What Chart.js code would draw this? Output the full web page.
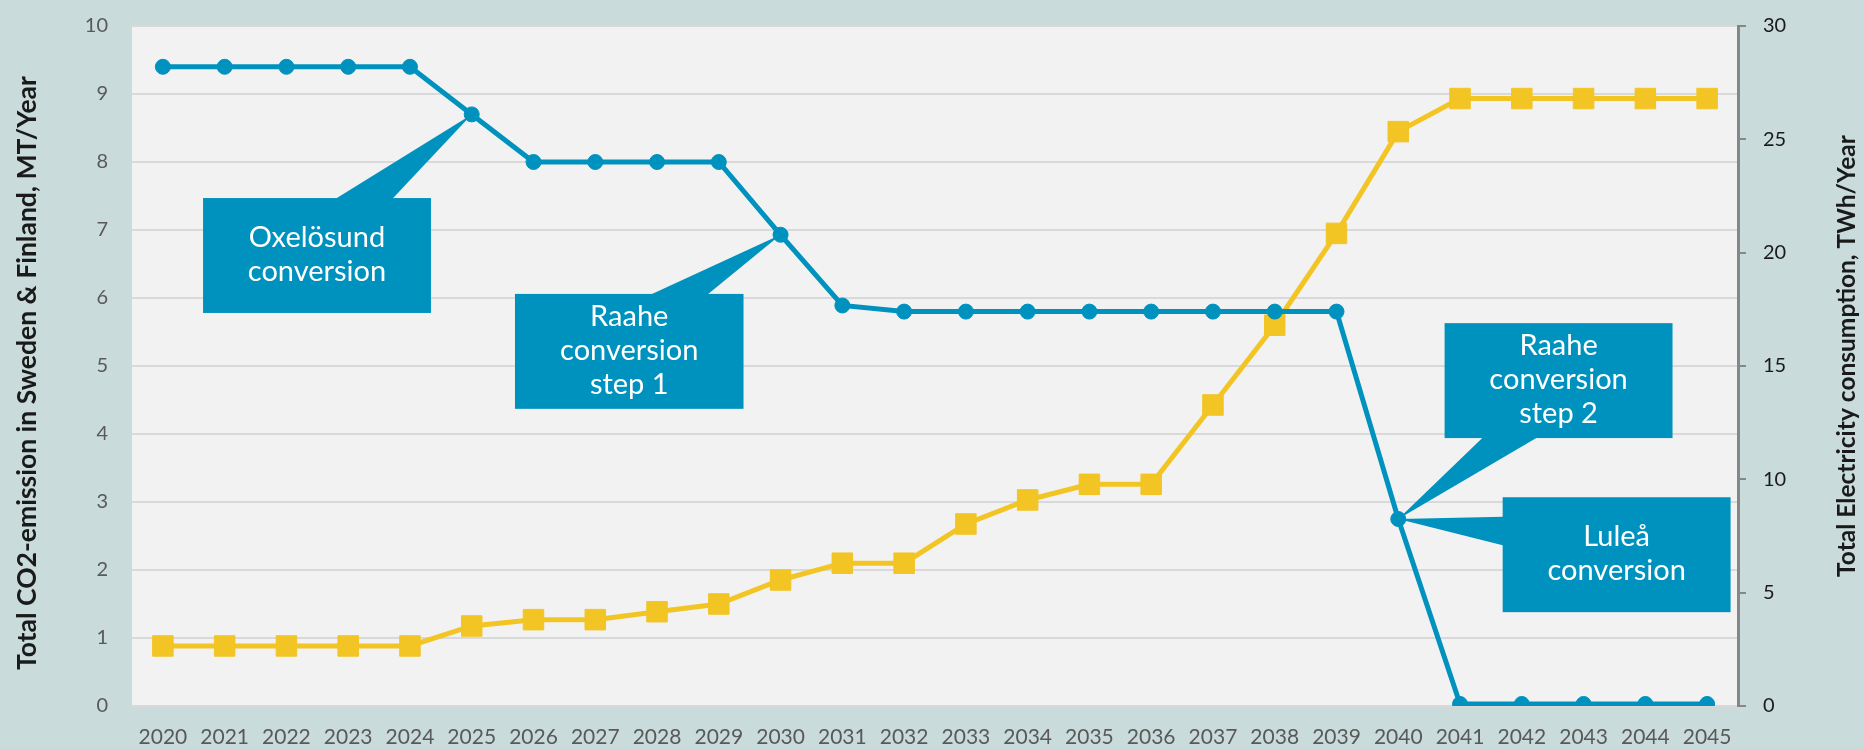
<!DOCTYPE html>
<html>
<head>
<meta charset="utf-8">
<title>CO2 emission and electricity consumption</title>
<script src="https://cdn.jsdelivr.net/npm/chart.js@4.4.0/dist/chart.umd.min.js"></script>
<style>
  html, body { margin: 0; padding: 0; background: #c9dbdb; }
  #wrap { width: 1864px; height: 749px; }
</style>
</head>
<body>
<div id="wrap"><canvas id="chart" width="1864" height="749"></canvas></div>
<script>
// data
const years = ["2020", "2021", "2022", "2023", "2024", "2025", "2026", "2027", "2028", "2029",
               "2030", "2031", "2032", "2033", "2034", "2035", "2036", "2037", "2038", "2039",
               "2040", "2041", "2042", "2043", "2044", "2045"];
// MT/Year, left axis
const co2Emission = [9.4, 9.4, 9.4, 9.4, 9.4, 8.7, 8.0, 8.0, 8.0, 8.0,
                     6.93, 5.89, 5.8, 5.8, 5.8, 5.8, 5.8, 5.8, 5.8, 5.8,
                     2.75, 0.03, 0.03, 0.03, 0.03, 0.03];
// TWh/Year, right axis
const electricity = [2.65, 2.65, 2.65, 2.65, 2.65, 3.53, 3.81, 3.81, 4.16, 4.5,
                     5.56, 6.3, 6.3, 8.03, 9.09, 9.78, 9.78, 13.28, 16.8, 20.85,
                     25.34, 26.8, 26.8, 26.8, 26.8, 26.8];
const leftTicks = [0, 1, 2, 3, 4, 5, 6, 7, 8, 9, 10];
const rightTicks = [0, 5, 10, 15, 20, 25, 30];
const leftTitle = "Total CO2-emission in Sweden & Finland, MT/Year";
const rightTitle = "Total Electricity consumption, TWh/Year";

const BLUE = "#0092be";
const YELLOW = "#f2c524";
const FONT = "Lato, 'Open Sans', 'DejaVu Sans', sans-serif";

// callouts: box given in axis units (category index, left axis value), pointer to a CO2 point
const callouts = [
    { lines: ["Oxelösund", "conversion"], point: 5, box: [0.65, 4.34, 7.47, 5.78], side: "top", base: [0.58, 0.83] },
    { lines: ["Raahe", "conversion", "step 1"], point: 10, box: [5.7, 9.4, 6.06, 4.37], side: "top", base: [0.59, 0.84] },
    { lines: ["Raahe", "conversion", "step 2"], point: 20, box: [20.75, 24.44, 5.63, 3.94], side: "bottom", base: [0.17, 0.41] },
    { lines: ["Luleå", "conversion"], point: 20, box: [21.69, 25.38, 3.07, 1.38], side: "left", base: [0.17, 0.42] }
];

const plotBackground = {
    id: "plotBackground",
    beforeDraw(chart) {
        const { ctx, chartArea } = chart;
        ctx.save();
        ctx.fillStyle = "#c9dbdb";
        ctx.fillRect(0, 0, chart.width, chart.height);
        ctx.fillStyle = "#f2f2f2";
        ctx.fillRect(chartArea.left, chartArea.top, chartArea.right - chartArea.left, chartArea.bottom - chartArea.top);
        ctx.restore();
    }
};

// both titles read bottom to top, so they are drawn here
const axisTitles = {
    id: "axisTitles",
    afterDraw(chart) {
        const { ctx, chartArea } = chart;
        const midY = (chartArea.top + chartArea.bottom) / 2;
        ctx.save();
        ctx.fillStyle = "#1a1a1a";
        ctx.textAlign = "center";
        ctx.textBaseline = "middle";
        [[chart.scales.y.left + 27, midY + 7, 26.5, leftTitle],
         [chart.scales.y2.right - 17, midY - 10, 24.5, rightTitle]].forEach(([x, y, size, text]) => {
            ctx.save();
            ctx.font = "bold " + size + "px " + FONT;
            ctx.translate(x, y);
            ctx.rotate(-Math.PI / 2);
            ctx.fillText(text, 0, 0);
            ctx.restore();
        });
        ctx.restore();
    }
};

const calloutPlugin = {
    id: "callouts",
    afterDatasetsDraw(chart) {
        const { ctx } = chart;
        const xs = chart.scales.x, ys = chart.scales.y;
        const pts = chart.getDatasetMeta(0).data;
        ctx.save();
        callouts.forEach(c => {
            const x1 = xs.getPixelForValue(c.box[0]);
            const x2 = xs.getPixelForValue(c.box[1]);
            const y1 = ys.getPixelForValue(c.box[2]);
            const y2 = ys.getPixelForValue(c.box[3]);
            const tip = pts[c.point];
            ctx.fillStyle = BLUE;
            ctx.fillRect(x1, y1, x2 - x1, y2 - y1);
            ctx.beginPath();
            if (c.side === "left") {
                ctx.moveTo(x1 + 1, y1 + (y2 - y1) * c.base[0]);
                ctx.lineTo(tip.x, tip.y);
                ctx.lineTo(x1 + 1, y1 + (y2 - y1) * c.base[1]);
            } else {
                const ey = c.side === "top" ? y1 + 1 : y2 - 1;
                ctx.moveTo(x1 + (x2 - x1) * c.base[0], ey);
                ctx.lineTo(tip.x, tip.y);
                ctx.lineTo(x1 + (x2 - x1) * c.base[1], ey);
            }
            ctx.closePath();
            ctx.fill();
            ctx.fillStyle = "#ffffff";
            ctx.font = "29px " + FONT;
            ctx.textAlign = "center";
            ctx.textBaseline = "middle";
            const lh = 34;
            const cy = (y1 + y2) / 2 - 1 - (c.lines.length - 1) * lh / 2;
            c.lines.forEach((t, i) => ctx.fillText(t, (x1 + x2) / 2, cy + i * lh));
        });
        ctx.restore();
    }
};

window.onload = function () {
    const ctx = document.getElementById("chart").getContext("2d");
    new Chart(ctx, {
        type: "line",
        data: {
            labels: years,
            datasets: [
                {
                    label: "CO2-emission",
                    data: co2Emission,
                    yAxisID: "y",
                    borderColor: BLUE,
                    backgroundColor: BLUE,
                    borderWidth: 5,
                    pointStyle: "circle",
                    pointRadius: 7.5,
                    pointBorderWidth: 1,
                    tension: 0,
                    order: 1
                },
                {
                    label: "Electricity",
                    data: electricity,
                    yAxisID: "y2",
                    borderColor: YELLOW,
                    backgroundColor: YELLOW,
                    borderWidth: 5,
                    pointStyle: "rect",
                    pointRadius: 14.5,
                    pointBorderWidth: 1,
                    tension: 0,
                    order: 2
                }
            ]
        },
        options: {
            responsive: false,
            animation: false,
            layout: { padding: { top: 26, left: 0, right: 0, bottom: 0 } },
            plugins: { legend: { display: false }, tooltip: { enabled: false } },
            scales: {
                x: {
                    offset: true,
                    grid: { display: false, drawTicks: false },
                    border: { display: false },
                    ticks: { color: "#595959", font: { family: FONT, size: 21 }, padding: 19, maxRotation: 0, autoSkip: false },
                    afterFit(s) { s.height = 43; }
                },
                y: {
                    position: "left",
                    min: 0,
                    max: 10,
                    afterBuildTicks(s) { s.ticks = leftTicks.map(v => ({ value: v })); },
                    grid: { color: "#d9d9d9", lineWidth: 2, drawTicks: false },
                    border: { display: false },
                    ticks: { color: "#595959", font: { family: FONT, size: 20 }, padding: 24 },
                    afterFit(s) { s.width = 132; s.paddingTop = 0; s.paddingBottom = 0; }
                },
                y2: {
                    position: "right",
                    min: 0,
                    max: 30,
                    afterBuildTicks(s) { s.ticks = rightTicks.map(v => ({ value: v })); },
                    grid: { drawOnChartArea: false, color: "#868686", lineWidth: 2, tickLength: 8 },
                    border: { color: "#868686", width: 3 },
                    ticks: { color: "#1a1a1a", font: { family: FONT, size: 20 }, padding: 17 },
                    afterFit(s) { s.width = 126; s.paddingTop = 0; s.paddingBottom = 0; }
                }
            }
        },
        plugins: [plotBackground, calloutPlugin, axisTitles]
    });
};
</script>
</body>
</html>
